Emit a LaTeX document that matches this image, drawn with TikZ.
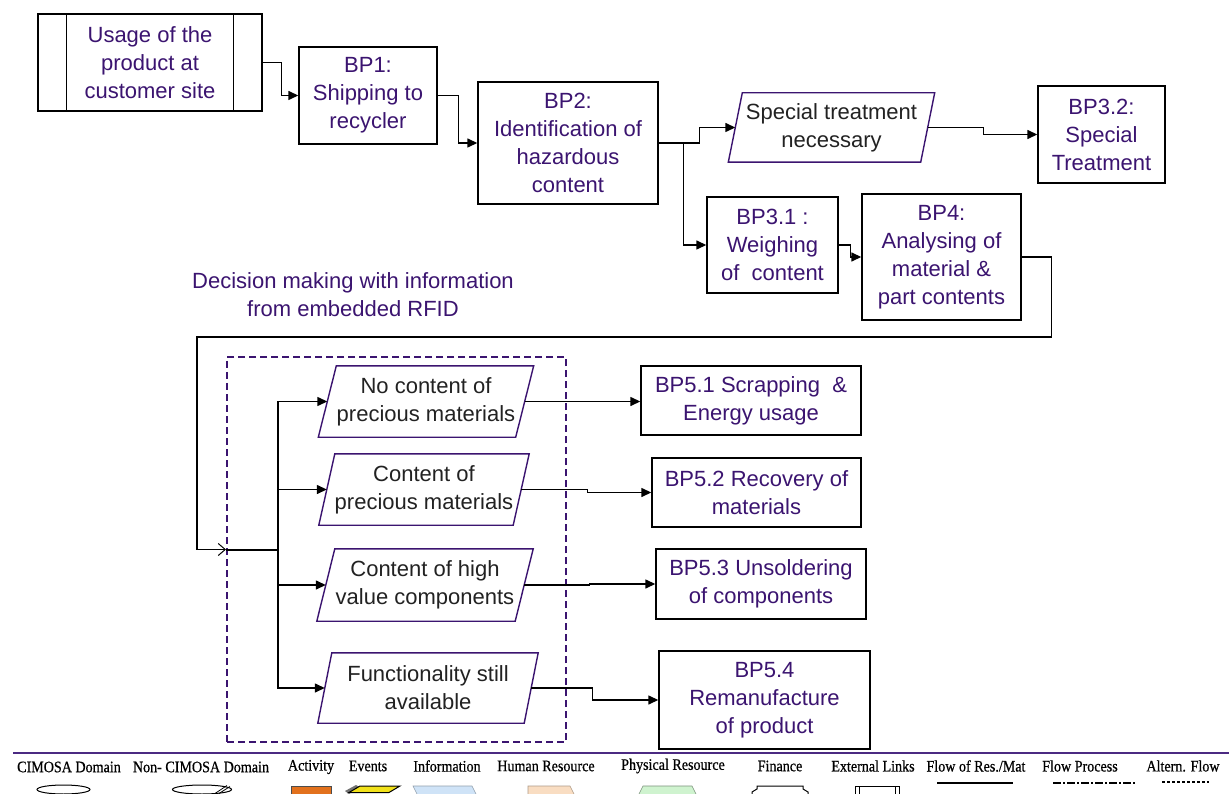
\documentclass[tikz,border=0pt]{standalone}
\usepackage{fontspec}
\setmainfont{Liberation Sans}
\newfontfamily\legendfont[FakeStretch=0.88,FakeBold=0.6]{Liberation Serif}
\usetikzlibrary{arrows.meta,calc}

\definecolor{procfg}{HTML}{3B1470}
\definecolor{evfg}{HTML}{222222}
\definecolor{evedge}{HTML}{3B1470}
\definecolor{legline}{HTML}{4B2A82}
\definecolor{actorange}{HTML}{E2711D}
\definecolor{evyellow}{HTML}{F2E21A}
\definecolor{infoblue}{HTML}{CFE3F7}
\definecolor{humanpeach}{HTML}{F9DDC2}
\definecolor{physgreen}{HTML}{CFF3CF}

% slanted frame drawn round an event node: #1 node name, #2 half slant
\newcommand\eventframe[2]{%
  \draw[evframe] ([xshift=-#2pt]#1.south west) -- ([xshift=#2pt]#1.north west)
    -- ([xshift=#2pt]#1.north east) -- ([xshift=-#2pt]#1.south east) -- cycle;}

\begin{document}
\begin{tikzpicture}[x=1pt,y=-1pt,
  bigtext/.style={font=\fontsize{22}{28}\selectfont},
  procbox/.style={bigtext,draw=black,line width=1.4pt,fill=white,inner sep=0pt,
    align=center,text=procfg},
  evtext/.style={bigtext,inner sep=0pt,align=center,text=evfg},
  evframe/.style={draw=evedge,line width=1.4pt},
  flow/.style={draw=black,line width=1.4pt,-{Triangle[length=10pt,width=9pt]}},
  legtext/.style={font=\legendfont\fontsize{16}{18}\selectfont,inner sep=0pt,text=black}]

\useasboundingbox (0,0) rectangle (1229,794);
\fill[white] (0,0) rectangle (1229,794);

% ---- upper chain of business processes
\node[procbox,minimum width=224pt,minimum height=97pt] (usage) at (150,62.5)
  {Usage of the\\product at\\customer site};
\draw[line width=1.4pt] ($(usage.north west)+(29,0)$) -- ($(usage.south west)+(29,0)$);
\draw[line width=1.4pt] ($(usage.north east)+(-29,0)$) -- ($(usage.south east)+(-29,0)$);

\node[procbox,minimum width=138pt,minimum height=97pt] (bp1) at (368,95.5)
  {BP1:\\Shipping to\\recycler};
\node[procbox,minimum width=180pt,minimum height=122pt] (bp2) at (568,143)
  {BP2:\\Identification of\\hazardous\\content};
\node[evtext,minimum width=192pt,minimum height=69pt] (evS) at (831.5,127.5)
  {Special treatment\\necessary};
\eventframe{evS}{7}
\node[procbox,minimum width=127pt,minimum height=97pt] (bp32) at (1101.5,134.5)
  {BP3.2:\\Special\\Treatment};
\node[procbox,minimum width=131pt,minimum height=96pt] (bp31) at (772.5,245)
  {BP3.1 :\\Weighing\\of\ \ content};
\node[procbox,minimum width=159pt,minimum height=126pt] (bp4) at (941.5,257)
  {BP4:\\Analysing of\\material \&\\part contents};

\draw[flow] (usage.east) -- ++(19,0) |- (bp1.west);
\draw[flow] (bp1.east) -- ++(21,0) |- (bp2.west);
\coordinate (split) at ($(bp2.east)+(25,0)$);
\draw[flow] (bp2.east) -- ++(41,0) |- (evS.west);
\draw[flow] (split) |- (bp31.west);
\draw[flow] (evS.east) -- ++(55.5,0) |- (bp32.west);
\draw[flow] (bp31.east) -- ++(12,0) |- (bp4.west);

% ---- decision on the RFID information
\node[bigtext,text=procfg,align=center,inner sep=0pt] (decision) at (353,295)
  {Decision making with information\\from embedded RFID};
\node[draw=evedge,line width=2pt,dash pattern=on 7pt off 4pt,inner sep=0pt,
  minimum width=339pt,minimum height=385pt] (zone) at (396.5,549.5) {};

\coordinate (loopcorner) at (197,337);
\coordinate (hub) at (278,549.5);
\draw[line width=1.4pt,-{Straight Barb[length=7pt,width=12pt,line width=1pt]}]
  (bp4.east) -- ++(30,0) |- (loopcorner) |- (zone.west);
\draw[line width=2pt] (zone.west) -- (hub);

\node[evtext,minimum width=197pt,minimum height=71pt] (e1) at (426,401.5)
  {No content of\\precious materials};
\eventframe{e1}{9}
\node[evtext,minimum width=194pt,minimum height=71pt] (e2) at (424,489.5)
  {Content of\\precious materials};
\eventframe{e2}{8}
\node[evtext,minimum width=198pt,minimum height=72pt] (e3) at (425,585)
  {Content of high\\value components};
\eventframe{e3}{9}
\node[evtext,minimum width=206pt,minimum height=70pt] (e4) at (428,688)
  {Functionality still\\available};
\eventframe{e4}{7}

\draw[flow] (hub) |- (e1.west);
\draw[flow] (hub) |- (e2.west);
\draw[flow] (hub) |- (e3.west);
\draw[flow] (hub) |- (e4.west);

\node[procbox,minimum width=220pt,minimum height=69pt] (bp51) at (751,400.5)
  {BP5.1 Scrapping\ \ \&\\Energy usage};
\node[procbox,minimum width=209pt,minimum height=69pt] (bp52) at (756.5,492.5)
  {BP5.2 Recovery of\\materials};
\node[procbox,minimum width=210pt,minimum height=70pt] (bp53) at (761,584)
  {BP5.3 Unsoldering\\of components};
\node[procbox,minimum width=211pt,minimum height=98pt] (bp54) at (764.5,700)
  {BP5.4\\Remanufacture\\of product};

\draw[flow] (e1.east) -- (e1.east -| bp51.west);
\draw[flow] (e2.east) -- ++(66,0) |- (bp52.west);
\draw[flow] (e3.east) -- ++(65,0) |- (bp53.west);
\draw[flow] (e4.east) -- ++(61.5,0) |- (bp54.west);

% ---- legend
\draw[legline,line width=1.5pt] (13,753) -- (1229,753);
\node[legtext] (lg1) at (69,767) {CIMOSA Domain};
\node[legtext] (lg2) at (201,767) {Non- CIMOSA Domain};
\node[legtext] (lg3) at (311,767) {Activity};
\node[legtext] (lg4) at (368,766) {Events};
\node[legtext] (lg5) at (447,766) {Information};
\node[legtext] (lg6) at (546,766) {Human Resource};
\node[legtext] (lg7) at (673,766) {Physical Resource};
\node[legtext] (lg8) at (780,766) {Finance};
\node[legtext] (lg9) at (873,766) {External Links};
\node[legtext] (lg10) at (976,766) {Flow of Res./Mat};
\node[legtext] (lg11) at (1080,766) {Flow Process};
\node[legtext] (lg12) at (1183,766) {Altern. Flow};

\begin{scope}
  \clip (0,755) rectangle (1229,794);
  \draw[line width=1pt] (63.5,789.5) ellipse [x radius=26.5pt, y radius=4.5pt];
  \draw[line width=1pt] (202,789.5) ellipse [x radius=29.5pt, y radius=4.5pt];
  \draw[line width=0.8pt] (215,793.5) -- (227,785.5);
  \draw[line width=0.8pt] (219,793.5) -- (230,786.5);
  \filldraw[fill=actorange,draw=black!70,line width=0.8pt] (291,786) rectangle (331,800);
  \fill[black!55] (345,791) -- (356,785) -- (360,787) -- (349,794) -- cycle;
  \filldraw[fill=evyellow,draw=black,line width=1pt]
    (360,786) -- (400,786) -- (389,792.5) -- (349,792.5) -- cycle;
  \filldraw[fill=infoblue,draw=infoblue!70!black,line width=0.6pt]
    (413,786) -- (472,786) -- (477,796) -- (472,806) -- (413,806) -- (418,796) -- cycle;
  \filldraw[fill=humanpeach,draw=humanpeach!70!black,line width=0.6pt]
    (528,786) -- (570,786) -- (575,796) -- (570,806) -- (528,806) -- cycle;
  \filldraw[fill=physgreen,draw=physgreen!60!black,line width=0.6pt]
    (643,786) -- (692,786) -- (697,796) -- (692,806) -- (643,806) -- (638,796) -- cycle;
  \filldraw[fill=white,draw=black,line width=1pt]
    (757,786) -- (803,786) -- (803,789) -- (808,792) -- (808,806) -- (752,806)
    -- (752,792) -- (757,789) -- cycle;
  \draw[line width=1pt] (855,786) rectangle (899,800);
  \draw[line width=1pt] (859,786) -- (859,794);
  \draw[line width=1pt] (895,786) -- (895,794);
\end{scope}
\draw[line width=2.2pt] (937,783) -- (1013,783);
\draw[line width=1.5pt,dash pattern=on 8pt off 2pt on 2pt off 2pt] (1053,783) -- (1135,783);
\draw[line width=1.5pt,dash pattern=on 3pt off 2pt] (1162,782) -- (1209,782);
\end{tikzpicture}
\end{document}
